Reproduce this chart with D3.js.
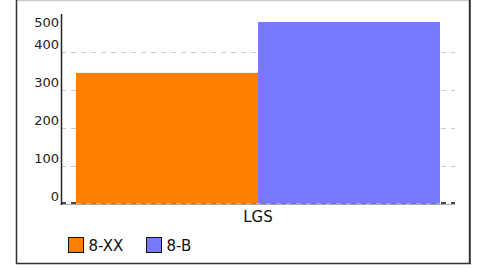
<!DOCTYPE html>
<html><head><meta charset="utf-8">
<script src="https://cdn.jsdelivr.net/npm/d3@7"></script>
<style>body{margin:0;background:#fff}svg{display:block;font-family:"DejaVu Sans",sans-serif}</style>
</head><body><svg id="c" width="494" height="269"></svg>
<script>
const categories = ["LGS"];
const seriesNames = ["8-XX", "8-B"];
const seriesColors = ["#ff8000", "#7777ff"];
const values = { "8-XX": [345], "8-B": [479] };
const yTicks = [0, 100, 200, 300, 400, 500];

const svg = d3.select("#c");
const x0 = d3.scaleBand().domain(categories).range([61, 455]).paddingInner(0).paddingOuter(15/364);
const x1 = d3.scaleBand().domain(seriesNames).range([0, x0.bandwidth()]).padding(0);
const y = d3.scaleLinear().domain([0, 500]).range([204, 14]);

// frame
svg.append("line").attr("x1",16).attr("x2",469).attr("y1",0.5).attr("y2",0.5).attr("stroke","#ccc").attr("stroke-width",1.5);
svg.append("line").attr("x1",16.5).attr("x2",16.5).attr("y1",0).attr("y2",264).attr("stroke","#333").attr("stroke-width",1.5);
svg.append("line").attr("x1",16).attr("x2",471).attr("y1",263.5).attr("y2",263.5).attr("stroke","#333").attr("stroke-width",1.5);
svg.append("line").attr("x1",469.8).attr("x2",469.8).attr("y1",0).attr("y2",264).attr("stroke","#333").attr("stroke-width",2);

// gridlines
const grid = svg.append("g");
yTicks.filter(t => t > 0 && t < 500).forEach(t => {
  grid.append("line").attr("x1",61).attr("x2",455).attr("y1",Math.round(y(t))+0.5).attr("y2",Math.round(y(t))+0.5)
    .attr("stroke","#ccc").attr("stroke-dasharray","5,5");
});
grid.append("line").attr("x1",61).attr("x2",455).attr("y1",y(0)-1).attr("y2",y(0)-1)
  .attr("stroke","#111").attr("stroke-width",1.5).attr("stroke-dasharray","5,5");

// bars
const g = svg.append("g");
categories.forEach((c, i) => {
  seriesNames.forEach((s, j) => {
    g.append("rect").attr("x", x0(c) + x1(s)).attr("width", x1.bandwidth())
      .attr("y", y(values[s][i])).attr("height", y(0) - y(values[s][i]) - 0.3)
      .attr("fill", seriesColors[j]);
  });
});

// x axis line
svg.append("line").attr("x1",61).attr("x2",455).attr("y1",y(0)+0.5).attr("y2",y(0)+0.5).attr("stroke","#aaa").attr("stroke-width",1.2);
// y axis line
svg.append("line").attr("x1",61.5).attr("x2",61.5).attr("y1",y(500)).attr("y2",y(0)+1).attr("stroke","#222").attr("stroke-width",1.5);

// y tick labels
svg.append("g").selectAll("text").data(yTicks).join("text")
  .attr("x", 59).attr("y", d => Math.max(y(d) - 3, y(500) + 13))
  .attr("text-anchor","end").attr("font-size",13).attr("fill","#222").text(d => d);

// category labels
svg.append("g").selectAll("text").data(categories).join("text")
  .attr("x", d => x0(d) + x0.bandwidth()/2).attr("y", 222)
  .attr("text-anchor","middle").attr("font-size",15).attr("fill","#111").text(d => d);

// legend
const lg = svg.append("g");
const legX = [68.5, 146.5];
seriesNames.forEach((s, j) => {
  lg.append("rect").attr("x", legX[j]).attr("y", 237.5).attr("width", 15).attr("height", 15)
    .attr("fill", seriesColors[j]).attr("stroke","#111").attr("stroke-width",1);
  lg.append("text").attr("x", legX[j] + 20).attr("y", 250.5).attr("font-size",15).attr("fill","#111").text(s);
});
</script></body></html>
